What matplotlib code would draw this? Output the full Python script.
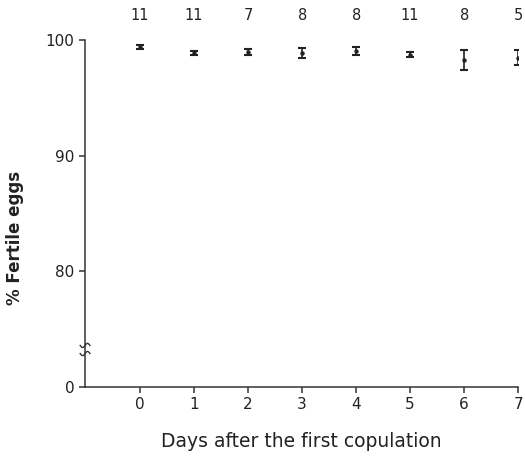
import numpy as np
import matplotlib.pyplot as plt

# fertility per day after first copulation
days = [0, 1, 2, 3, 4, 5, 6, 7]
fertile = [99.4, 98.9, 98.95, 98.9, 99.1, 98.75, 98.3, 98.5]
err = [0.15, 0.15, 0.25, 0.4, 0.35, 0.22, 0.85, 0.65]
n_females = [11, 11, 7, 8, 8, 11, 8, 5]

y_ticks = [70, 80, 90, 100]
y_ticklabels = ['0', '80', '90', '100']

plt.rcParams['font.family'] = ['DejaVu Sans']
fig = plt.figure(figsize=(5.25, 4.57), dpi=100)
ax = fig.add_axes([0.162, 0.153, 0.825, 0.759])

ax.errorbar(days, fertile, yerr=err, fmt='o', ms=2.2, color='#222222',
            ecolor='#222222', elinewidth=1.2, capsize=3, capthick=1.5)

for d, f, e, n in zip(days, fertile, err, n_females):
    ax.text(d, 102.1, str(n), ha='center', va='center', fontsize=10.5,
            color='#222222', clip_on=False)

ax.set_xlim(-1.02, 7)
ax.set_ylim(70, 100)
ax.set_xticks(days)
ax.set_yticks(y_ticks)
ax.set_yticklabels(y_ticklabels)
ax.spines['top'].set_visible(False)
ax.spines['right'].set_visible(False)
for s in ['left', 'bottom']:
    ax.spines[s].set_color('#333333')
    ax.spines[s].set_linewidth(1.1)
ax.tick_params(direction='out', length=4, width=1.1, colors='#333333',
               labelsize=11, labelcolor='#222222')

# axis break mark on the y axis
t = np.linspace(-1, 1, 30)
for yc in [73.6, 72.9]:
    xs = -1.02 + t * 0.09
    ys = yc + 0.18 * np.sin(t * np.pi)
    ax.plot(xs, ys, color='#333333', lw=1.0, clip_on=False)

ax.set_xlabel('Days after the first copulation', fontsize=13.5, labelpad=14,
              color='#222222')
ax.set_ylabel('% Fertile eggs', fontsize=12, fontweight='bold',
              color='#222222')
ax.yaxis.set_label_coords(-0.14, 0.43)

fig.savefig('out.png', dpi=100)
